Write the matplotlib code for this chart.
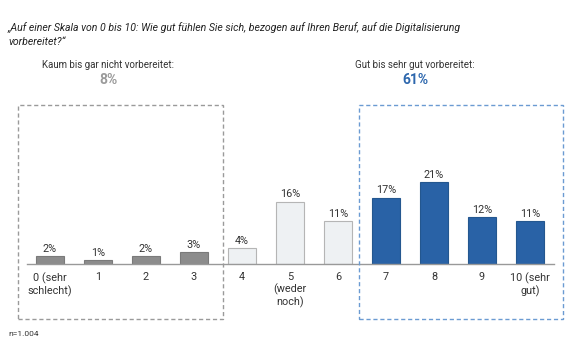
import matplotlib
matplotlib.use("Agg")
import matplotlib.pyplot as plt
from matplotlib.patches import Rectangle

categories = ["0 (sehr\nschlecht)", "1", "2", "3", "4", "5\n(weder\nnoch)", "6",
              "7", "8", "9", "10 (sehr\ngut)"]
values = [2, 1, 2, 3, 4, 16, 11, 17, 21, 12, 11]
groups = ["low"] * 4 + ["mid"] * 3 + ["high"] * 4

title = "\u201eAuf einer Skala von 0 bis 10: Wie gut f\u00fchlen Sie sich, bezogen auf Ihren Beruf, auf die Digitalisierung\nvorbereitet?\u201c"
low_label, low_share = "Kaum bis gar nicht vorbereitet:", "8%"
high_label, high_share = "Gut bis sehr gut vorbereitet:", "61%"
note = "n=1.004"

plt.rcParams['font.family'] = ['Roboto', 'DejaVu Sans']

fill = {"low": "#8c8c8c", "mid": "#eef1f3", "high": "#2962a6"}
edge = {"low": "#7a7a7a", "mid": "#b5b5b5", "high": "#24578f"}

W, H = 580, 346
fig = plt.figure(figsize=(W / 100, H / 100), dpi=100)

# axes placed in pixel terms: baseline at y=264, axis from x=27 to 554
ax = fig.add_axes([27 / W, (H - 264) / H, 527 / W, 97.5 / H])
x = list(range(len(values)))
ax.bar(x, values, width=0.57,
       color=[fill[g] for g in groups],
       edgecolor=[edge[g] for g in groups], linewidth=0.8)
for xi, v in zip(x, values):
    ax.annotate(f"{v}%", (xi, v), xytext=(0, 1.8), textcoords="offset points",
                ha="center", va="bottom", fontsize=7.8, color="#333333")

ax.set_xlim(-0.48, 10.5)
ax.set_ylim(0, 25)
ax.set_xticks(x)
ax.set_xticklabels(categories, fontsize=7.8, color="#333333", linespacing=1.15)
ax.tick_params(axis="x", length=0, pad=6)
ax.set_yticks([])
for s in ["top", "left", "right"]:
    ax.spines[s].set_visible(False)
ax.spines["bottom"].set_color("#999999")
ax.spines["bottom"].set_linewidth(1.0)

# dashed group boxes (figure pixel coordinates)
def box(x0, x1, color):
    fig.patches.append(Rectangle((x0 / W, (H - 319) / H), (x1 - x0) / W, (319 - 105) / H,
                                 transform=fig.transFigure, fill=False,
                                 edgecolor=color, linestyle=(0, (3, 2)), linewidth=1.0))

box(18, 223, "#9a9a9a")
box(359, 563, "#6b9bd2")

fig.text(8 / W, 1 - 22 / H, title, fontsize=7.6, style="italic", color="#222222",
         va="top", ha="left", linespacing=1.5)

fig.text(108 / W, 1 - 65 / H, low_label, fontsize=7.0, color="#333333", ha="center", va="center")
fig.text(108 / W, 1 - 80 / H, low_share, fontsize=10, color="#9a9a9a", ha="center", va="center",
         fontweight="bold")
fig.text(415 / W, 1 - 65 / H, high_label, fontsize=7.0, color="#333333", ha="center", va="center")
fig.text(415 / W, 1 - 80 / H, high_share, fontsize=10, color="#2d67ad", ha="center", va="center",
         fontweight="bold")

fig.text(8 / W, 1 - 334 / H, note, fontsize=6, color="#333333", ha="left", va="center")

fig.savefig("out.png", dpi=100)
